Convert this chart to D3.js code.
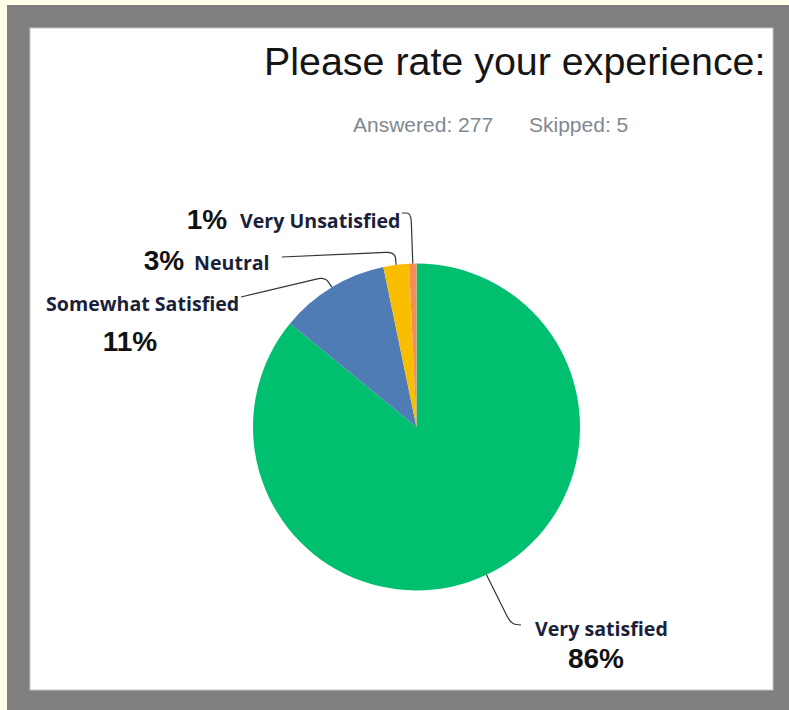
<!DOCTYPE html>
<html><head><meta charset="utf-8">
<script src="https://cdn.jsdelivr.net/npm/d3@7"></script>
<style>html,body{margin:0;padding:0;background:#fefee6;}svg{display:block;}</style>
</head><body>
<svg id="c" width="789" height="710"></svg>
<script>
const categories = ["Very satisfied", "Somewhat Satisfied", "Neutral", "Very Unsatisfied"];
const counts = [238, 30, 7, 2];
const percentLabels = ["86%", "11%", "3%", "1%"];
const colors = ["#00bf6f", "#507cb6", "#f9be00", "#f68c56"];
const title = "Please rate your experience:";
const answered = 277, skipped = 5;

const svg = d3.select("#c");
svg.append("rect").attr("x",0).attr("y",0).attr("width",789).attr("height",710).attr("fill","#fefee6");
svg.append("rect").attr("x",7).attr("y",5).attr("width",782).attr("height",705).attr("fill","#7f7f7f");
svg.append("rect").attr("x",30).attr("y",28).attr("width",743).attr("height",662).attr("fill","#ffffff")
  .attr("stroke","#c8c8c8").attr("stroke-width",1);

svg.append("text").attr("x",264).attr("y",75).attr("font-family","'Liberation Sans', Arial, sans-serif")
  .attr("font-size",39.4).attr("fill","#151515").text(title);
svg.append("text").attr("x",353).attr("y",132).attr("font-family","'Liberation Sans', Arial, sans-serif")
  .attr("font-size",21).attr("fill","#7f8893")
  .text("Answered: " + answered);
svg.append("text").attr("x",529).attr("y",132).attr("font-family","'Liberation Sans', Arial, sans-serif")
  .attr("font-size",21).attr("fill","#7f8893")
  .text("Skipped: " + skipped);

const cx = 416.5, cy = 427, r = 163.5;
const pie = d3.pie().sort(null).value(d => d)(counts);
const arc = d3.arc().innerRadius(0).outerRadius(r);
const g = svg.append("g").attr("transform", `translate(${cx},${cy})`);
g.selectAll("path").data(pie).join("path").attr("d", arc).attr("fill", (d,i) => colors[i]);

// label layout (positions only)
const layout = [
  {elbow:[511,624], end:[521,625], name:[535,636,"start"], pct:[596,668,"middle"]},
  {elbow:[325,277], end:[241,297], name:[46,311,"start"], pct:[130,351,"middle"]},
  {elbow:[395,252], end:[282,257], name:[194,270,"start"], pct:[164,270,"middle"]},
  {elbow:[411,213], end:[402,213], name:[240,228,"start"], pct:[207,229,"middle"]}
];

function leader(a, e, l, rad) {
  const d1 = Math.hypot(e[0]-a[0], e[1]-a[1]), d2 = Math.hypot(l[0]-e[0], l[1]-e[1]);
  const k1 = Math.min(rad, d1/2)/d1, k2 = Math.min(rad, d2/2)/d2;
  const p1 = [e[0] + (a[0]-e[0])*k1, e[1] + (a[1]-e[1])*k1];
  const p2 = [e[0] + (l[0]-e[0])*k2, e[1] + (l[1]-e[1])*k2];
  return `M${a[0]},${a[1]}L${p1[0]},${p1[1]}Q${e[0]},${e[1]} ${p2[0]},${p2[1]}L${l[0]},${l[1]}`;
}

pie.forEach((d, i) => {
  const mid = (d.startAngle + d.endAngle) / 2;
  const a = [cx + r*Math.sin(mid), cy - r*Math.cos(mid)];
  const L = layout[i];
  svg.append("path").attr("d", leader(a, L.elbow, L.end, 9))
    .attr("fill","none").attr("stroke","#333").attr("stroke-width",1.2);
  svg.append("text").attr("x",L.name[0]).attr("y",L.name[1]).attr("text-anchor",L.name[2])
    .attr("font-family","'Open Sans', sans-serif").attr("font-weight",700).attr("font-size",19.6)
    .attr("fill","#1c1f3a").text(categories[i]);
  svg.append("text").attr("x",L.pct[0]).attr("y",L.pct[1]).attr("text-anchor",L.pct[2])
    .attr("font-family","'Liberation Sans', Arial, sans-serif").attr("font-weight",700).attr("font-size",28)
    .attr("fill","#111").text(percentLabels[i]);
});
</script>
</body></html>
